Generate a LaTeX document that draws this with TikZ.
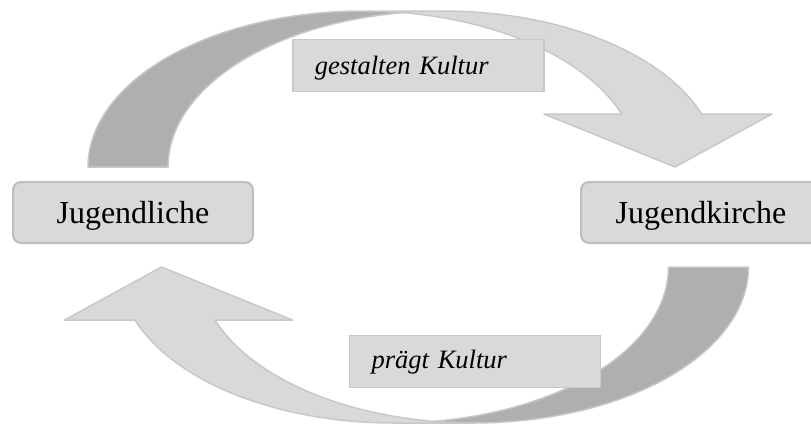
\documentclass[tikz,border=0pt]{standalone}
\usepackage{fontspec}
\setmainfont{Liberation Serif}
\definecolor{darkband}{RGB}{175,175,175}
\definecolor{lightband}{RGB}{217,217,217}
\definecolor{edgegray}{RGB}{200,200,200}
\definecolor{boxedge}{RGB}{190,190,190}
\newcommand{\drawCurvedArrow}{%
  \fill[darkband] (403,12.66)
    -- plot[domain=98.36:180,samples=60] ({443+275*cos(\x)},{167-156*sin(\x)})
    -- (88,167)
    -- plot[domain=180:81.64,samples=60] ({363+275*cos(\x)},{167-156*sin(\x)})
    -- cycle;
  \fill[lightband] (675,167) -- (544,114) -- (621.6,114)
    -- plot[domain=19.86:90,samples=60] ({363+275*cos(\x)},{167-156*sin(\x)})
    -- (443,11)
    -- plot[domain=90:19.86,samples=60] ({443+275*cos(\x)},{167-156*sin(\x)})
    -- (772,114) -- cycle;
  \draw[arrowedge] (403,12.66)
    -- plot[domain=98.36:180,samples=60] ({443+275*cos(\x)},{167-156*sin(\x)})
    -- (88,167)
    -- plot[domain=180:90,samples=60] ({363+275*cos(\x)},{167-156*sin(\x)})
    -- (443,11)
    -- plot[domain=90:19.86,samples=60] ({443+275*cos(\x)},{167-156*sin(\x)})
    -- (772,114) -- (675,167) -- (544,114) -- (621.6,114)
    -- plot[domain=19.86:90,samples=60] ({363+275*cos(\x)},{167-156*sin(\x)});
}
\begin{document}
\begin{tikzpicture}[x=1pt,y=-1pt,
  arrowedge/.style={draw=edgegray,line width=1.5pt,line join=round},
  mainbox/.style={draw=boxedge,line width=2pt,fill=lightband,rounded corners=8pt,
    minimum width=240pt,minimum height=61pt,inner sep=0pt,
    font=\fontsize{32}{38}\selectfont,text height=24pt,text depth=3pt},
  labelbox/.style={draw=edgegray,line width=1.5pt,fill=lightband,
    minimum width=251pt,minimum height=52pt,inner xsep=22pt,inner ysep=0pt,
    text width=207pt,align=left,font=\fontsize{26.5}{32}\selectfont\itshape}]
\useasboundingbox (0,0) rectangle (811,424);
\clip (0,0) rectangle (811,424);
\begin{scope}
  \drawCurvedArrow
\end{scope}
\begin{scope}[rotate around={180:(418.25,217)}]
  \drawCurvedArrow
\end{scope}
\node[mainbox] (jugendliche) at (133,212.5) {Jugendliche};
\node[mainbox] (jugendkirche) at (701,212.5) {Jugendkirche};
\node[labelbox,text height=19pt,text depth=2pt] (gestalten) at (418.4,65.5) {gestalten Kultur};
\node[labelbox,text height=17pt,text depth=3pt] (praegt) at (475,361.4) {prägt Kultur};
\end{tikzpicture}
\end{document}
